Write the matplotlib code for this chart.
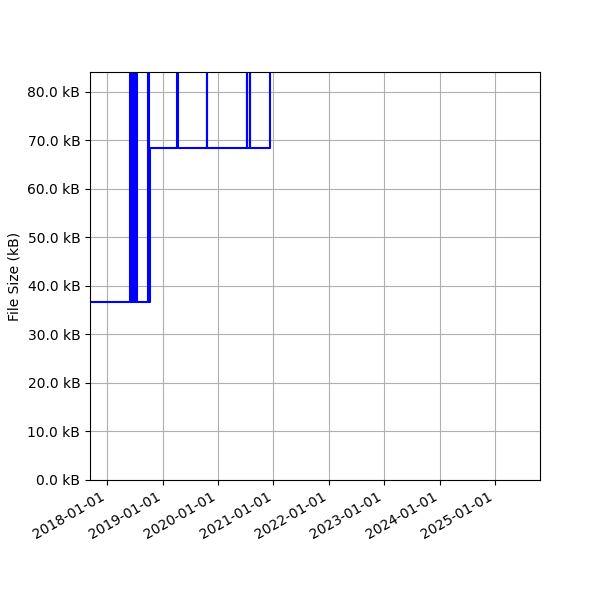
import matplotlib
matplotlib.use("Agg")
import matplotlib.pyplot as plt
import matplotlib.dates as mdates
import matplotlib.ticker as mticker
import pandas as pd

# commit dates and file size (kB) after each commit
dates = [
    "2017-09-10", "2018-06-03", "2018-06-06", "2018-06-09", "2018-06-12",
    "2018-06-15", "2018-06-18", "2018-06-21", "2018-06-24", "2018-06-27",
    "2018-06-30", "2018-07-05", "2018-07-08", "2018-07-11", "2018-07-16",
    "2018-09-26", "2018-10-04", "2018-10-09", "2019-04-09", "2019-04-11",
    "2019-10-21", "2019-10-23", "2020-07-10", "2020-07-12", "2020-07-30",
    "2020-08-01", "2020-12-10",
]
sizes = [
    36.6, 110.0, 36.6, 110.0, 36.6,
    110.0, 36.6, 110.0, 110.0, 36.6,
    110.0, 36.6, 110.0, 110.0, 36.6,
    110.0, 36.6, 68.5, 110.0, 68.5,
    110.0, 68.5, 110.0, 68.5, 110.0,
    68.5, 110.0,
]
x_range = ["2017-09-10", "2025-10-24"]

dts = pd.to_datetime(dates)

fig = plt.figure(figsize=(6, 6), dpi=100)
ax = fig.add_subplot(111)
fig.subplots_adjust(left=0.15, right=0.9, top=0.88, bottom=0.2)

ax.plot(dts, sizes, color="blue", drawstyle="steps-post")
ax.set_xlim(pd.to_datetime(x_range[0]), pd.to_datetime(x_range[1]))
ax.set_ylim(0, 84.1)
ax.yaxis.set_major_formatter(mticker.FuncFormatter(lambda v, p: "%.1f kB" % v))
ax.xaxis.set_major_locator(mdates.YearLocator())
ax.xaxis.set_major_formatter(mdates.DateFormatter("%Y-%m-%d"))
ax.set_ylabel("File Size (kB)")
ax.grid(True)
for lbl in ax.get_xticklabels():
    lbl.set_rotation(30)
    lbl.set_ha("right")

fig.savefig("out.png")
